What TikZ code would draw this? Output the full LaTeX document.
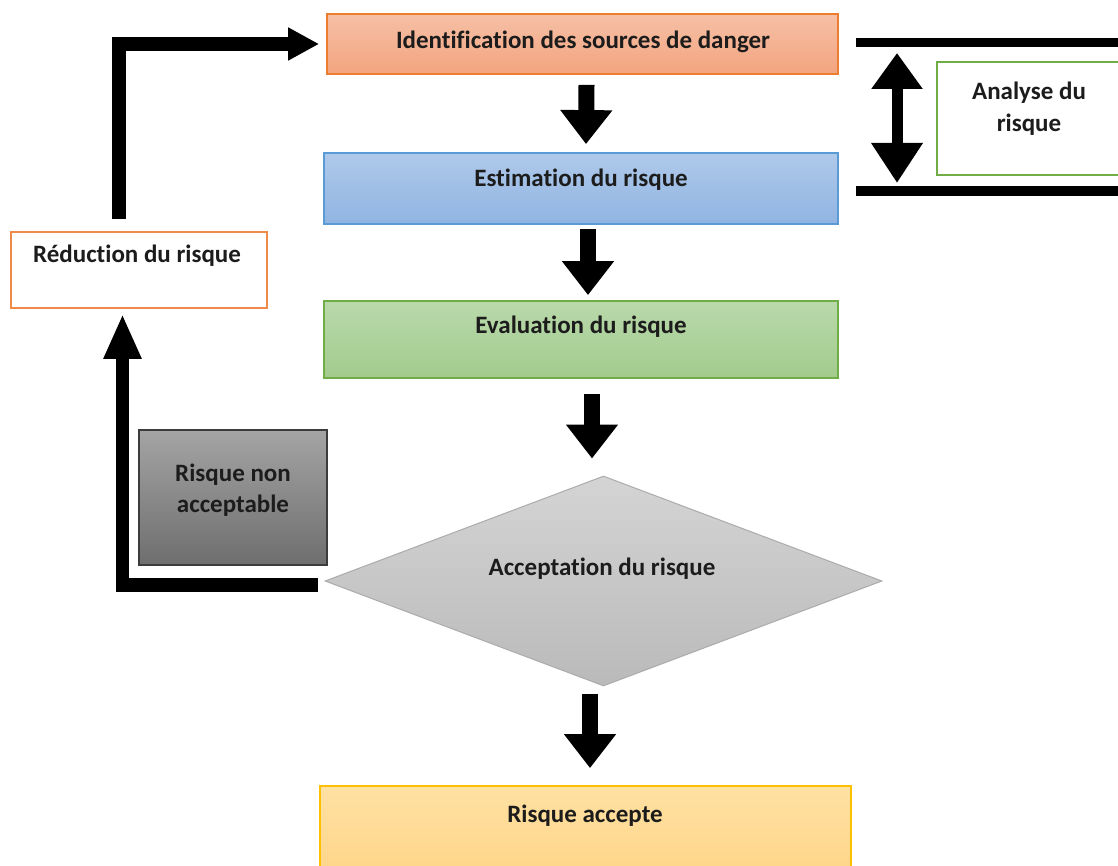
\documentclass[tikz,border=0pt]{standalone}
\usepackage{fontspec}
\setmainfont[Ligatures=NoCommon]{Carlito}
\usetikzlibrary{arrows.meta,shapes.geometric,calc}

\definecolor{txt}{HTML}{1C1C1C}
\definecolor{identTop}{HTML}{F6C0A6}
\definecolor{identBot}{HTML}{F3A47F}
\definecolor{identLine}{HTML}{ED7D31}
\definecolor{estTop}{HTML}{AFC9EA}
\definecolor{estBot}{HTML}{90B4E2}
\definecolor{estLine}{HTML}{5B9BD5}
\definecolor{evalTop}{HTML}{B9D9AB}
\definecolor{evalBot}{HTML}{A2CB8D}
\definecolor{evalLine}{HTML}{70AD47}
\definecolor{diaTop}{HTML}{D4D4D4}
\definecolor{diaBot}{HTML}{BABABA}
\definecolor{diaLine}{HTML}{ABABAB}
\definecolor{accTop}{HTML}{FFE1A3}
\definecolor{accBot}{HTML}{FFD485}
\definecolor{accLine}{HTML}{FFC000}
\definecolor{nonTop}{HTML}{A4A4A4}
\definecolor{nonBot}{HTML}{6E6E6E}
\definecolor{nonLine}{HTML}{3C3C3C}
\definecolor{redLine}{HTML}{F08A4B}

\begin{document}
\begin{tikzpicture}[x=1pt,y=-1pt,
  box/.style={rectangle, draw, line width=1.8pt, inner sep=0pt},
  lbl/.style={font=\fontsize{25}{31.5}\selectfont\bfseries, text=txt,
              anchor=base, align=center, inner sep=0pt},
  blockdown/.style={line width=16pt, line cap=butt,
                    -{Triangle[width=50pt,length=34pt]}},
  loopline/.style={line width=13.5pt, line join=miter, line cap=butt},
  bar/.style={line width=9.5pt, line cap=butt}]

\useasboundingbox (0,0) rectangle (1118,866);
\clip (0,0) rectangle (1118,866);

% main chain of steps
\node[box, draw=identLine, top color=identTop, bottom color=identBot,
      minimum width=511pt, minimum height=60pt] (ident) at (582.5,44) {};
\node[lbl] (identT) at (583,48.5) {Identification des sources de danger};

\node[box, draw=estLine, top color=estTop, bottom color=estBot,
      minimum width=514pt, minimum height=71pt] (est) at (581,188.5) {};
\node[lbl] (estT) at (581,187) {Estimation du risque};

\node[box, draw=evalLine, top color=evalTop, bottom color=evalBot,
      minimum width=514pt, minimum height=77pt] (eval) at (581,339.5) {};
\node[lbl] (evalT) at (581,334) {Evaluation du risque};

\node[diamond, draw=diaLine, line width=1pt, top color=diaTop, bottom color=diaBot,
      inner sep=0pt, minimum width=557pt, minimum height=210pt] (accept) at (603.5,581) {};
\node[lbl] (acceptT) at (602,575.5) {Acceptation du risque};

\node[box, draw=accLine, top color=accTop, bottom color=accBot,
      minimum width=531pt, minimum height=100pt] (acc) at (585.5,836) {};
\node[lbl] (accT) at (585,822.5) {Risque accepte};

% side boxes
\node[box, draw=redLine, fill=white,
      minimum width=256pt, minimum height=76pt] (reduc) at (139,270) {};
\node[lbl] (reducT) at (137,263) {Réduction du risque};

\node[box, draw=nonLine, top color=nonTop, bottom color=nonBot,
      minimum width=188pt, minimum height=135pt] (non) at (233,497.5) {};
\node[lbl] (nonT1) at (233,481) {Risque non};
\node[lbl] (nonT2) at (233,512) {acceptable};

\node[box, draw=evalLine, fill=white,
      minimum width=200pt, minimum height=113pt] (ana) at (1037,118.5) {};
\node[lbl] (anaT1) at (1029,100) {Analyse du};
\node[lbl] (anaT2) at (1029,132) {risque};

% bracket bars of the analysis phase
\coordinate (barTopL) at (856,42.5);
\coordinate (barTopR) at (1125,42.5);
\coordinate (barBotL) at (856,191);
\coordinate (barBotR) at (1125,191);
\draw[bar] (barTopL) -- (barTopR);
\draw[bar] (barBotL) -- (barBotR);
\draw[line width=11pt, line cap=butt,
      {Triangle[width=49pt,length=36pt]}-{Triangle[width=49pt,length=40pt]}]
  ($(barTopL)+(41,10.5)$) -- ($(barBotL)+(41,-8)$);

% downward block arrows
\draw[blockdown] ($(ident.south)+(4,10)$) -- ($(est.north)+(5,-8)$);
\draw[blockdown] ($(est.south)+(7,4)$) -- ($(eval.north)+(7,-5)$);
\draw[blockdown] ($(eval.south)+(11,15)$) -- ($(accept.north)+(-11.5,-17)$);
\draw[blockdown] ($(accept.south)+(-13.5,7)$) -- ($(acc.north)+(4.5,-17)$);

% loop back when the risk is not acceptable
\draw[loopline, -{Triangle[width=35pt,length=45pt]}]
  ($(accept.west)+(-7,4)$) -| ($(reduc.south)+(-16.5,5)$);
\draw[loopline, -{Triangle[width=31pt,length=31pt]}]
  ($(reduc.north)+(-20,-12)$) |- ($(ident.west)+(-7,0)$);
\end{tikzpicture}
\end{document}
